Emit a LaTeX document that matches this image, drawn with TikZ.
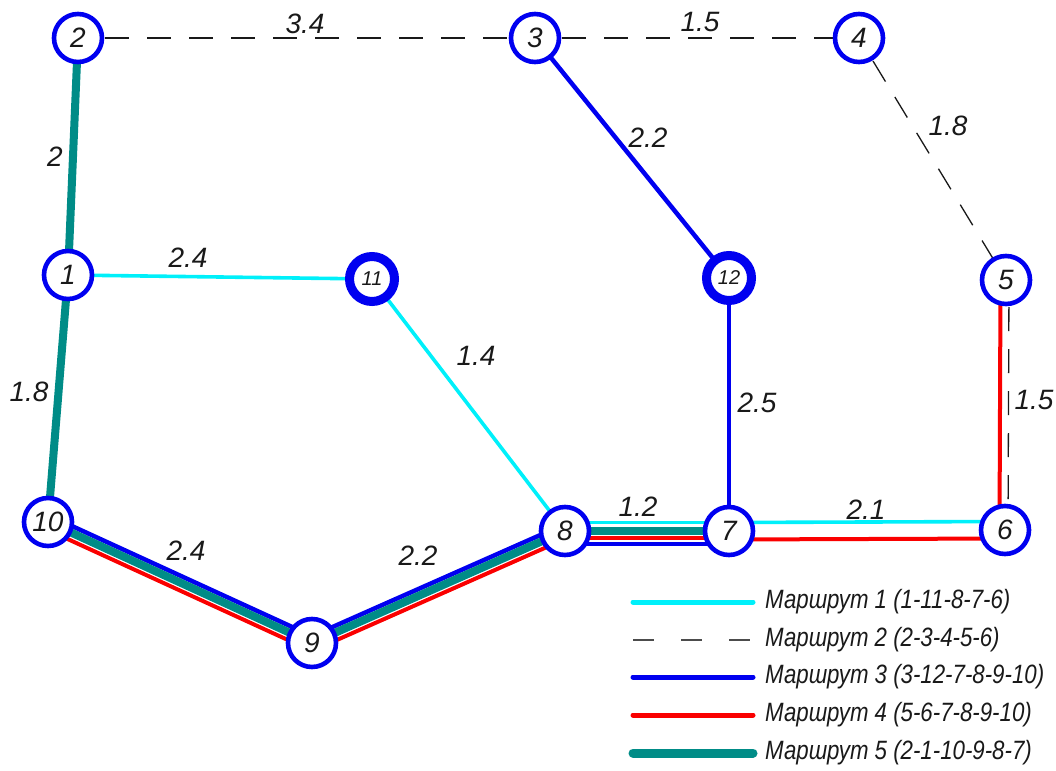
\documentclass[tikz,border=0pt]{standalone}
\usepackage{fontspec}
\setmainfont{Liberation Sans}
\newfontfamily\legfont[FakeStretch=0.84]{Liberation Sans}
\usetikzlibrary{calc,backgrounds}
\definecolor{rteal}{RGB}{0,140,135}
\definecolor{rcyan}{RGB}{0,240,250}
\definecolor{rblue}{RGB}{0,0,240}
\definecolor{rred}{RGB}{250,0,0}
\definecolor{labcol}{RGB}{25,25,25}
\newcommand\ofs[4]{\draw[#4] ($(#1.center)!#3!90:(#2.center)$) -- ($(#2.center)!#3!-90:(#1.center)$);}
\begin{document}
\begin{tikzpicture}[x=1pt,y=-1pt,
  stop/.style={circle,draw=rblue,line width=4.6pt,fill=white,minimum size=48pt,inner sep=0pt,
    text=labcol,font=\fontsize{28}{28}\selectfont\itshape},
  hub/.style={stop,line width=9pt,minimum size=45pt,font=\fontsize{20}{20}\selectfont\itshape},
  lab/.style={font=\fontsize{28}{28}\selectfont\itshape,inner sep=0pt,text=labcol},
  leg/.style={font=\fontsize{26.5}{26.5}\legfont\itshape,inner sep=0pt,anchor=west,text=labcol},
  r1/.style={line width=3.6pt,rcyan},
  r2/.style={line width=1.3pt,labcol,dash pattern=on 24pt off 18pt,dash phase=15pt},
  r3/.style={line width=4.5pt,rblue},
  r4/.style={line width=4pt,rred},
  r5/.style={line width=8pt,rteal},
]
\useasboundingbox (0,0) rectangle (1056,770);
% stops
\node[stop] (n2) at (78,38) {2};
\node[stop] (n3) at (535,38) {3};
\node[stop] (n4) at (859,38) {4};
\node[stop] (n1) at (68,275) {1};
\node[hub] (n11) at (372,279) {11};
\node[hub] (n12) at (729,278) {12};
\node[stop] (n5) at (1006,280) {5};
\node[stop] (n10) at (48,522) {10};
\node[stop] (n8) at (565,531) {8};
\node[stop] (n7) at (729,531) {7};
\node[stop] (n6) at (1005,530) {6};
\node[stop] (n9) at (312,643) {9};
\begin{pgfonlayer}{background}
% route 2
\draw[r2] (n2.center) -- (n3.center);
\draw[r2] (n3.center) -- (n4.center);
\draw[r2] (n4.center) -- (n5.center);
\ofs{n5}{n6}{3pt}{r2}
% route 1
\draw[r1] (n1.center) -- (n11.center);
\draw[r1] (n11.center) -- (n8.center);
\ofs{n8}{n7}{8.5pt}{r1}
\ofs{n7}{n6}{8.5pt}{r1}
% route 3
\draw[r3] (n3.center) -- (n12.center);
\draw[r3] (n12.center) -- (n7.center);
\ofs{n8}{n7}{-13pt}{r3}
\ofs{n10}{n9}{6.3pt}{r3}
\ofs{n9}{n8}{6.3pt}{r3}
% route 4
\ofs{n5}{n6}{-5.5pt}{r4}
\ofs{n8}{n7}{-7.3pt}{r4}
\ofs{n7}{n6}{-8.5pt}{r4}
\ofs{n10}{n9}{-7.3pt}{r4}
\ofs{n9}{n8}{-7.3pt}{r4}
% route 5
\draw[r5] (n2.center) -- (n1.center);
\draw[r5] (n1.center) -- (n10.center);
\draw[r5] (n10.center) -- (n9.center);
\draw[r5] (n9.center) -- (n8.center);
\draw[r5] (n8.center) -- (n7.center);
\end{pgfonlayer}
% edge labels
\node[lab] (l23) at (305,24) {3.4};
\node[lab] (l34) at (700,22) {1.5};
\node[lab] (l45) at (948,126) {1.8};
\node[lab] (l21) at (55,157) {2};
\node[lab] (l111) at (188,258) {2.4};
\node[lab] (l110) at (29,392) {1.8};
\node[lab] (l118) at (476,356) {1.4};
\node[lab] (l312) at (648,138) {2.2};
\node[lab] (l127) at (757,403) {2.5};
\node[lab] (l56) at (1034,400) {1.5};
\node[lab] (l87) at (638,507) {1.2};
\node[lab] (l76) at (866,510) {2.1};
\node[lab] (l109) at (186,551) {2.4};
\node[lab] (l98) at (418,556) {2.2};
% legend
\coordinate (a1) at (633,602); \coordinate (b1) at (753,602);
\coordinate (a2) at (633,640); \coordinate (b2) at (753,640);
\coordinate (a3) at (633,677); \coordinate (b3) at (753,677);
\coordinate (a4) at (633,715); \coordinate (b4) at (753,715);
\coordinate (a5) at (633,753); \coordinate (b5) at (753,753);
\draw[r1,line width=5pt,line cap=round] (a1) -- (b1);
\draw[line width=1.6pt,black!70,dash pattern=on 21pt off 27pt] (a2) -- (b2);
\draw[r3,line width=5pt,line cap=round] (a3) -- (b3);
\draw[r4,line width=5pt,line cap=round] (a4) -- (b4);
\draw[r5,line width=9pt,line cap=round] (a5) -- (b5);
\node[leg] (t1) at (765,602) {Маршрут 1 (1-11-8-7-6)};
\node[leg] (t2) at (765,640) {Маршрут 2 (2-3-4-5-6)};
\node[leg] (t3) at (765,677) {Маршрут 3 (3-12-7-8-9-10)};
\node[leg] (t4) at (765,715) {Маршрут 4 (5-6-7-8-9-10)};
\node[leg] (t5) at (765,753) {Маршрут 5 (2-1-10-9-8-7)};
\end{tikzpicture}
\end{document}
